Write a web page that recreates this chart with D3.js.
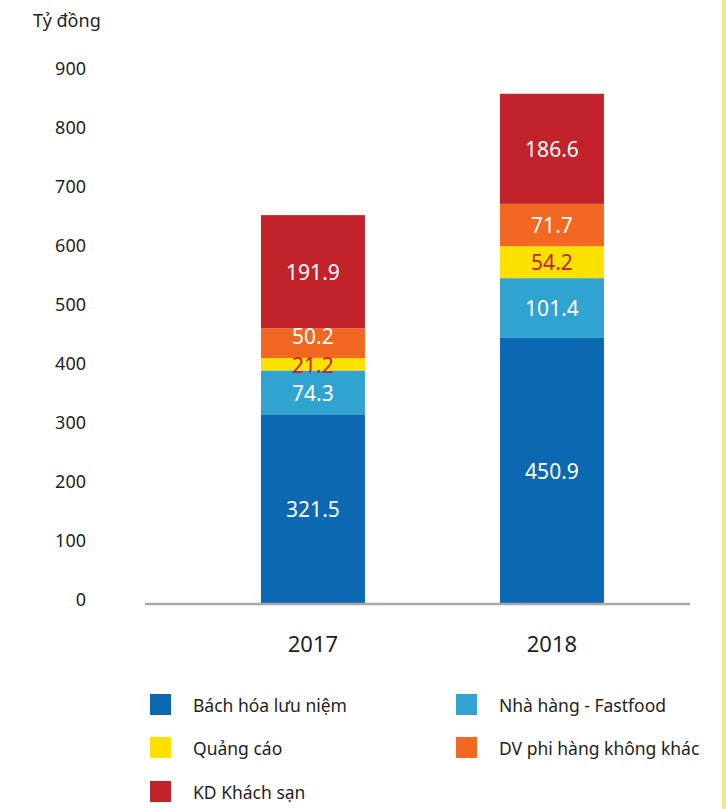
<!DOCTYPE html>
<meta charset="utf-8">
<style>
  body { margin: 0; background: #fff; }
  svg { display: block; font-family: "Noto Sans", sans-serif; }
</style>
<svg id="chart" width="726" height="809"></svg>
<script src="https://d3js.org/d3.v7.min.js"></script>
<script>

var years = ["2017", "2018"];
var series = ["Bách hóa lưu niệm", "Nhà hàng - Fastfood", "Quảng cáo", "DV phi hàng không khác", "KD Khách sạn"];
var colors = ["#0b68b1", "#30a3d0", "#fbe100", "#f26722", "#c2232a"];
var labelColors = ["#fff", "#fff", "#c2232a", "#fff", "#fff"];
// values per series, [2017, 2018]
var bachHoa = [321.5, 450.9];
var nhaHang = [74.3, 101.4];
var quangCao = [21.2, 54.2];
var dvPhi = [50.2, 71.7];
var khachSan = [191.9, 186.6];
var yTicks = [0, 100, 200, 300, 400, 500, 600, 700, 800, 900];

var svg = d3.select("#chart");
var ink = "#231f20";

var rows = years.map(function(y, i) {
  return {year: y, s0: bachHoa[i], s1: nhaHang[i], s2: quangCao[i], s3: dvPhi[i], s4: khachSan[i]};
});
var keys = ["s0", "s1", "s2", "s3", "s4"];
var stacked = d3.stack().keys(keys)(rows);

var x = d3.scaleBand()
    .domain(years)
    .range([145, 690])
    .paddingInner(0.565)
    .paddingOuter(0.4226)
    .align(0.574);

var y = d3.scaleLinear()
    .domain([0, 900])
    .range([604, 73]);

// right edge strip
svg.append("rect")
    .attr("x", 722).attr("y", 0)
    .attr("width", 4).attr("height", 809)
    .attr("fill", "#fde57f");

// unit label
svg.append("text")
    .attr("x", 33).attr("y", 20)
    .attr("dominant-baseline", "central")
    .attr("font-size", 18)
    .attr("fill", ink)
    .text("Tỷ đồng");

// y axis labels (no line, no ticks)
var yAxis = svg.append("g")
    .attr("transform", "translate(86,-4)")
    .call(d3.axisLeft(y).tickValues(yTicks).tickSize(0).tickPadding(0));
yAxis.select(".domain").remove();
yAxis.selectAll("text")
    .attr("font-family", "Noto Sans")
    .attr("font-size", 18)
    .attr("fill", ink);

// bars
var layer = svg.append("g").selectAll("g")
  .data(stacked)
  .enter().append("g")
    .attr("fill", function(d, i) { return colors[i]; });

layer.selectAll("rect")
  .data(function(d) { return d; })
  .enter().append("rect")
    .attr("x", function(d) { return x(d.data.year); })
    .attr("y", function(d) { return y(d[1]); })
    .attr("width", x.bandwidth())
    .attr("height", function(d) { return y(d[0]) - y(d[1]); });

// segment labels: centred in each segment; where a thin segment makes two
// labels collide, the upper one moves up inside its own segment first
var labelSize = 21;
var minGap = 29;
var glyphHalf = 7.5;
var labels = [];
years.forEach(function(yr, j) {
  var col = stacked.map(function(s, i) {
    var d = s[j];
    return {i: i, d: d, cy: (y(d[0]) + y(d[1])) / 2, top: y(d[1])};
  });
  for (var k = 0; k < col.length - 1; k++) {
    var gap = col[k].cy - col[k + 1].cy;
    if (gap < minGap) {
      var need = minGap - gap;
      var room = Math.max(0, col[k + 1].cy - glyphHalf - col[k + 1].top);
      var up = Math.min(need, room);
      col[k + 1].cy -= up;
      col[k].cy += need - up;
    }
  }
  labels = labels.concat(col);
});

svg.append("g").selectAll("text")
  .data(labels)
  .enter().append("text")
    .attr("x", function(l) { return x(l.d.data.year) + x.bandwidth() / 2; })
    .attr("y", function(l) { return l.cy; })
    .attr("text-anchor", "middle")
    .attr("dominant-baseline", "central")
    .attr("font-size", labelSize)
    .attr("fill", function(l) { return labelColors[l.i]; })
    .text(function(l) { return d3.format(".1f")(l.d[1] - l.d[0]); });

// baseline
svg.append("line")
    .attr("x1", 145).attr("x2", 690)
    .attr("y1", y(0)).attr("y2", y(0))
    .attr("stroke", "#a7a9ac")
    .attr("stroke-width", 2.5);

// x axis labels
var xAxis = svg.append("g")
    .attr("transform", "translate(0,643)")
    .call(d3.axisBottom(x).tickSize(0).tickPadding(0));
xAxis.select(".domain").remove();
xAxis.selectAll("text")
    .attr("font-family", "Noto Sans")
    .attr("font-size", 22)
    .attr("fill", ink)
    .attr("dy", null)
    .attr("dominant-baseline", "central");

// legend
var legendPos = [[150, 705], [456, 705], [150, 748], [456, 748], [150, 792]];
var legend = svg.append("g").selectAll("g")
  .data(series)
  .enter().append("g")
    .attr("transform", function(d, i) { return "translate(" + legendPos[i][0] + "," + legendPos[i][1] + ")"; });

legend.append("rect")
    .attr("x", 0).attr("y", -11)
    .attr("width", 21).attr("height", 21)
    .attr("fill", function(d, i) { return colors[i]; });

legend.append("text")
    .attr("x", 43).attr("y", 0)
    .attr("dominant-baseline", "central")
    .attr("font-size", 17.5)
    .attr("fill", ink)
    .text(function(d) { return d; });

</script>
